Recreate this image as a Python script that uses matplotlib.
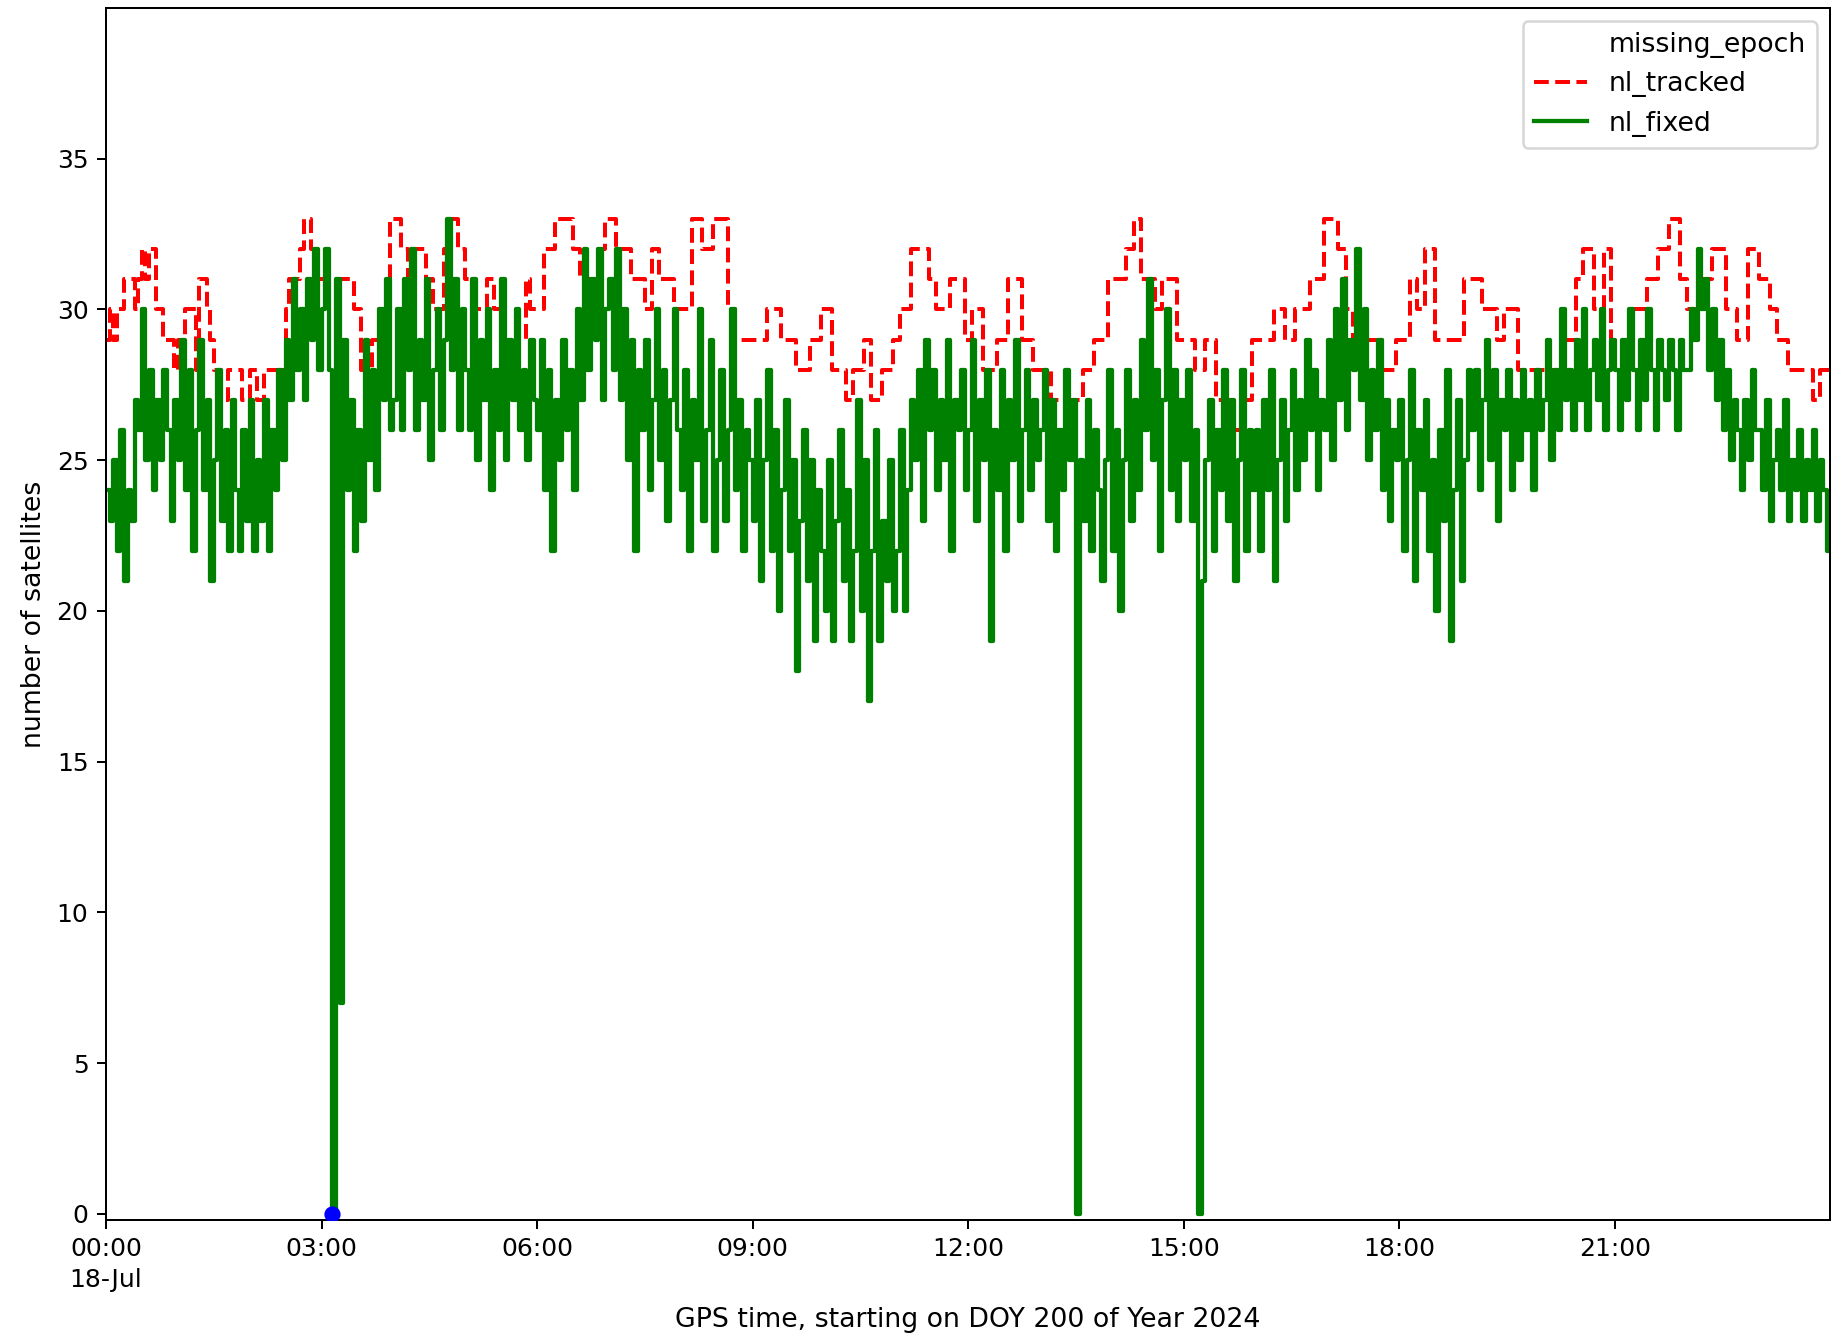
import numpy as np
import pandas as pd
import matplotlib
matplotlib.use("Agg")
import matplotlib.pyplot as plt
import matplotlib.dates as mdates
from matplotlib.lines import Line2D

# ---------------- data ----------------
start_day = "2024-07-18"
fixed_step_minutes = 3

# nl_fixed: 20 values per hour (3-minute sampling), hours 00..23
fixed_h00 = [24,23,25,22,26,21,24,23,27,26,30,25,28,24,27,25,28,26,23,27]
fixed_h01 = [25,29,24,28,22,26,29,24,27,21,25,28,23,26,22,27,24,22,26,23]
fixed_h02 = [27,22,25,23,27,22,26,24,28,25,29,27,31,28,30,27,31,29,32,28]
fixed_h03 = [30,32,28,0,31,7,29,24,27,22,26,23,29,25,28,24,30,27,31,26]
fixed_h04 = [27,30,26,31,28,32,26,29,27,31,25,28,30,26,29,33,28,31,26,30]
fixed_h05 = [28,26,31,25,29,27,30,24,28,26,31,25,29,27,30,26,28,25,29,27]
fixed_h06 = [26,29,24,28,22,27,25,29,26,28,24,30,27,32,28,31,29,32,27,30]
fixed_h07 = [31,28,32,27,30,25,29,22,28,26,29,24,27,30,25,28,23,27,30,26]
fixed_h08 = [24,28,22,27,25,30,23,26,29,22,25,28,23,26,30,24,27,22,26,25]
fixed_h09 = [23,27,21,25,28,22,26,20,24,27,22,25,18,23,26,21,25,19,24,22]
fixed_h10 = [20,25,19,23,26,21,24,19,22,27,20,25,17,22,26,19,23,21,25,20]
fixed_h11 = [22,26,20,24,27,25,28,23,29,26,28,24,27,25,29,22,27,26,28,24]
fixed_h12 = [26,29,23,27,25,28,19,26,24,28,22,27,25,29,23,26,28,24,27,25]
fixed_h13 = [26,28,23,27,22,26,24,28,25,27,0,25,23,27,22,26,24,21,25,28]
fixed_h14 = [22,26,20,25,28,23,27,24,29,26,31,25,28,22,27,30,24,28,23,27]
fixed_h15 = [25,28,23,26,0,21,25,27,22,26,24,28,23,27,21,25,28,22,26,24]
fixed_h16 = [26,22,27,24,28,21,25,27,23,26,28,24,27,25,29,26,28,24,27,26]
fixed_h17 = [29,25,30,27,31,26,29,28,32,27,30,25,28,26,29,24,27,23,26,25]
fixed_h18 = [27,22,25,28,21,26,24,27,22,25,20,26,23,28,19,24,27,21,25,28]
fixed_h19 = [26,28,24,27,29,25,28,23,27,26,28,24,27,25,28,26,27,24,28,26]
fixed_h20 = [27,29,25,28,26,30,27,28,26,29,27,30,26,28,29,27,30,26,28,29]
fixed_h21 = [28,26,29,27,30,28,26,29,27,30,28,26,29,28,27,29,28,26,29,28]
fixed_h22 = [28,30,29,32,30,31,28,30,27,29,26,28,25,27,26,24,27,25,28,26]
fixed_h23 = [26,24,27,23,25,26,24,27,23,25,24,26,23,25,24,26,23,25,24,22]

# nl_tracked: step changes (time HH:MM, value)
tracked_times = ["00:00","00:03","00:06","00:09","00:15","00:24","00:27","00:30","00:33","00:36",
                 "00:42","00:48","00:57","01:00","01:06","01:15","01:18","01:24","01:27","01:30",
                 "01:36","01:42","01:54","02:00","02:06","02:12","02:24","02:27","02:30","02:33",
                 "02:42","02:45","02:51","02:57","03:21","03:27","03:33","03:36","03:42","03:48",
                 "03:54","03:57","04:06","04:12","04:18","04:27","04:33","04:42","04:45","04:54",
                 "05:00","05:06","05:18","05:24","05:33","05:36","05:42","05:51","05:54","06:06",
                 "06:15","06:30","06:36","06:51","06:57","07:06","07:18","07:30","07:36","07:42",
                 "07:54","08:09","08:18","08:27","08:39","08:45","08:54","09:12","09:24","09:36",
                 "09:48","09:57","10:06","10:18","10:24","10:33","10:39","10:48","10:57","11:03",
                 "11:12","11:27","11:33","11:45","11:57","12:03","12:12","12:24","12:33","12:45",
                 "12:54","13:09","13:36","13:45","13:57","14:12","14:18","14:24","14:36","14:42",
                 "14:54","15:09","15:18","15:27","15:39","15:48","15:57","16:15","16:24","16:33",
                 "16:45","16:57","17:09","17:15","17:21","17:45","17:57","18:09","18:15","18:21",
                 "18:30","18:54","19:09","19:21","19:27","19:39","20:18","20:27","20:33","20:42",
                 "20:51","20:57","21:15","21:27","21:36","21:45","21:54","22:00","22:12","22:21",
                 "22:33","22:42","22:51","23:00","23:09","23:15","23:24","23:45","23:51"]
tracked_values = [29,30,29,30,31,30,31,32,31,32,
                  30,29,28,29,30,28,31,30,29,28,
                  27,28,27,28,27,28,27,28,30,31,
                  32,33,32,31,31,30,28,27,29,30,
                  31,33,32,31,32,31,30,32,33,32,
                  31,30,31,30,29,28,29,31,30,32,
                  33,32,31,32,33,32,31,30,32,31,
                  30,33,32,33,30,29,29,30,29,28,
                  29,30,28,27,28,29,27,28,29,30,
                  32,31,30,31,29,30,28,29,31,29,
                  28,27,28,29,31,32,33,31,30,31,
                  29,28,29,27,26,27,29,30,29,30,
                  31,33,32,30,29,28,29,31,30,32,
                  29,31,30,29,30,28,29,31,32,30,
                  32,29,30,31,32,33,31,30,31,32,
                  30,29,32,31,30,29,28,27,28]

missing_epoch_time = ["03:09"]
missing_epoch_value = [0]

# ---------------- build series ----------------
fixed_values = np.array(sum([fixed_h00, fixed_h01, fixed_h02, fixed_h03, fixed_h04, fixed_h05,
                             fixed_h06, fixed_h07, fixed_h08, fixed_h09, fixed_h10, fixed_h11,
                             fixed_h12, fixed_h13, fixed_h14, fixed_h15, fixed_h16, fixed_h17,
                             fixed_h18, fixed_h19, fixed_h20, fixed_h21, fixed_h22, fixed_h23], []))
t0 = pd.Timestamp(start_day)
fixed_t = pd.date_range(t0, periods=len(fixed_values), freq=f"{fixed_step_minutes}min")
t_end = fixed_t[-1] + pd.Timedelta(minutes=2.5)

tr_t = [pd.Timestamp(f"{start_day} {s}") for s in tracked_times] + [t_end]
tr_v = tracked_values + [tracked_values[-1]]
fx_t = list(fixed_t) + [t_end]
fx_v = list(fixed_values) + [fixed_values[-1]]
me_t = [pd.Timestamp(f"{start_day} {s}") for s in missing_epoch_time]

# ---------------- plot ----------------
DPI = 180
plt.rcParams['font.family'] = ['DejaVu Sans']
plt.rcParams['font.size'] = 10
fig = plt.figure(figsize=(1833 / DPI, 1334 / DPI), dpi=DPI)
ax = fig.add_axes([0.0578, 0.0855, 0.9406, 0.9085])

ax.plot(me_t, missing_epoch_value, 'o', color='blue', markersize=5.5, zorder=5)
ax.plot(tr_t, tr_v, '--', color='red', lw=1.6, drawstyle='steps-post', label='nl_tracked')
ax.plot(fx_t, fx_v, '-', color='green', lw=1.7, drawstyle='steps-post', label='nl_fixed')

ax.set_ylim(-0.2, 40)
ax.set_yticks(range(0, 36, 5))
ax.set_xlim(t0, t_end)

ax.xaxis.set_major_locator(mdates.HourLocator(byhour=range(0, 24, 3)))
def fmt(x, pos):
    d = mdates.num2date(x)
    s = d.strftime('%H:%M')
    if d.hour == 0 and d.minute == 0:
        s += '\n' + d.strftime('%d-%b')
    return s
ax.xaxis.set_major_formatter(plt.FuncFormatter(fmt))
ax.tick_params(labelsize=10)
for lab in ax.get_xticklabels():
    lab.set_linespacing(1.35)

ax.set_ylabel('number of satellites', fontsize=10.7)
ax.set_xlabel('GPS time, starting on DOY 200 of Year 2024', fontsize=10.7, labelpad=6)

handles = [Line2D([], [], linestyle='none', marker=None),
           Line2D([], [], color='red', ls='--', lw=1.6),
           Line2D([], [], color='green', lw=1.7)]
ax.legend(handles, ['missing_epoch', 'nl_tracked', 'nl_fixed'], loc='upper right', fontsize=10.7)

fig.savefig('out.png', dpi=DPI)
